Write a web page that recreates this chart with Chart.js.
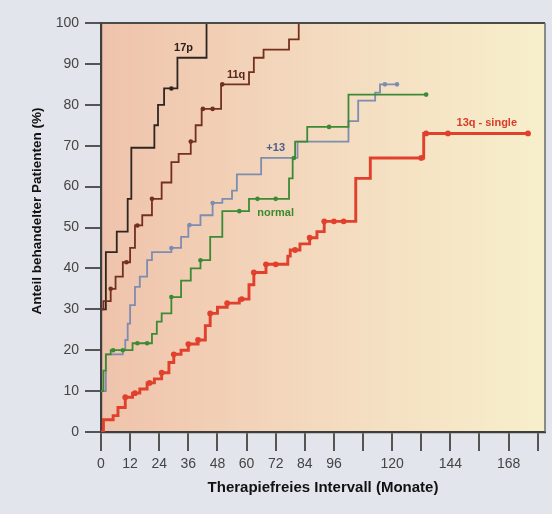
<!DOCTYPE html>
<html><head><meta charset="utf-8">
<script src="https://cdn.jsdelivr.net/npm/chart.js@4.4.1/dist/chart.umd.min.js"></script>
<style>html,body{margin:0;padding:0;background:#e2e6ec;}canvas{display:block}</style>
</head><body>
<canvas id="c" width="552" height="514"></canvas>
<script>
// ---- tick labels ----
const xTickValues = [0,12,24,36,48,60,72,84,96,108,120,132,144,156,168,180];
const xTickLabels = ['0','12','24','36','48','60','72','84','96','','120','','144','','168',''];
const yTickLabels = ['0','10','20','30','40','50','60','70','80','90','100'];
const xTitle = 'Therapiefreies Intervall (Monate)';
const yTitle = 'Anteil behandelter Patienten (%)';

// ---- series names ----
const seriesNames = ['17p','11q','+13','normal','13q - single'];

// ---- 17p ----
const m17p = [0,2,6.5,11,12.5,22,23.5,26,31.5,43.5];
const p17p = [30,44,49,57,69.5,75,80,84,91.5,100];
const c17pM = [29];
const c17pP = [84];

// ---- 11q ----
const m11q = [0,1,4,6,9,12,14,17,21,25,29,32,37,39,41.5,49.5,61,63,67,77.5,81.5];
const p11q = [30,32,35,38,41.5,45,50.5,53,57,61,66,68,71,75,79,85,88,91.5,93.5,96,100];
const c11qM = [4,10.5,15,21,37,42,46,50];
const c11qP = [35,41.5,50.5,57,71,79,79,85];

// ---- +13 ----
const m13p = [0,2,9,10,11,12,14,16,19,21,29,33,36,41,46,50,54,56,66,81,102,106,113,115,122];
const p13p = [10,19,20,22.5,26.5,31,35.5,38,42,44,45,47.7,50.6,53,56,57,59,63,67,71,76,81,83,85,85];
const c13pM = [29,36.5,46,117,122];
const c13pP = [45,50.6,56,85,85];

// ---- normal ----
const mNorm = [0,1,2,4,13,21,23,25,29,33,37,41,45,50,61,77.5,79,80,85,102,134];
const pNorm = [10,15,19,20,21.7,24,27,29,33,37,40,42,47.7,54,57,62,67,71,74.6,82.5,82.5];
const cNormM = [5,9,15,19,29,41,57,64.5,72,79.5,94,134];
const cNormP = [20,20,21.7,21.7,33,42,54,57,57,67,74.6,82.5];

// ---- 13q single ----
const m13q = [0,1,5,7,10,13,16,19,22,25,28,30,33,36,40,43,45,48,52,57,61,63,68,77,78,82,86,89,92,105,111,133,176];
const p13q = [0,3,4,6,8.5,9.5,10.5,12,13,14.5,17,19,20,21.5,22.5,26,29,30.5,31.5,32.5,36,39,41,43,44.5,46,47.5,49,51.5,62,67,73,73];
const c13qM = [10,14,20,25,30,36,40,45,52,58,63,68,72,80,86,92,96,100,132,134,143,176];
const c13qP = [8.5,9.5,12,14.5,19,21.5,22.5,29,31.5,32.5,39,41,41,44.5,47.5,51.5,51.5,51.5,67,73,73,73];

// ---- label anchor positions (month, percent) ----
const labelM = [34,55.7,72,72,159];
const labelP = [94,87.3,69.5,53.6,75.5];

const colors = ['#2f2622','#74301f','#7d8db0','#3d8a36','#e0402c'];
const labelColors = ['#2a201c','#5a261a','#4b5f8a','#3a8a30','#d83c28'];
const widths = [1.8,1.8,1.8,1.8,2.9];

const zip = (a,b) => a.map((v,i)=>({x:v,y:b[i]}));
const lines = [[m17p,p17p],[m11q,p11q],[m13p,p13p],[mNorm,pNorm],[m13q,p13q]];
const cens = [[c17pM,c17pP],[c11qM,c11qP],[c13pM,c13pP],[cNormM,cNormP],[c13qM,c13qP]];

const datasets = [];
lines.forEach((s,i)=>{
  datasets.push({label:seriesNames[i], data:zip(s[0],s[1]), stepped:true, borderColor:colors[i],
    borderWidth:widths[i], pointRadius:0, fill:false, order:5-i});
});
cens.forEach((s,i)=>{
  datasets.push({label:seriesNames[i]+' zensiert', data:zip(s[0],s[1]), showLine:false,
    pointRadius:i===4?2.9:2.3, pointBackgroundColor:colors[i], pointBorderColor:colors[i], pointBorderWidth:0, order:0});
});

const FONT = "'Liberation Sans', Arial, sans-serif";

const deco = {
  id:'deco',
  beforeDraw(chart){
    const {ctx, chartArea:a} = chart;
    ctx.save();
    ctx.fillStyle = '#e2e6ec';
    ctx.fillRect(0,0,chart.width,chart.height);
    const g = ctx.createLinearGradient(a.left,0,a.right,0);
    g.addColorStop(0,'#efc3ab');
    g.addColorStop(0.45,'#f3d8bd');
    g.addColorStop(1,'#f7efcc');
    ctx.fillStyle = g;
    ctx.fillRect(a.left,a.top,a.right-a.left,a.bottom-a.top);
    ctx.restore();
  },
  afterDraw(chart){
    const {ctx, chartArea:a, scales:{x,y}} = chart;
    ctx.save();
    ctx.strokeStyle = '#4a4a4a';
    ctx.lineWidth = 2;
    ctx.beginPath(); ctx.moveTo(a.left,a.top); ctx.lineTo(a.right,a.top); ctx.stroke();
    ctx.lineWidth = 1.5; ctx.strokeStyle = '#6a6a6a';
    ctx.beginPath(); ctx.moveTo(a.right,a.top); ctx.lineTo(a.right,a.bottom); ctx.stroke();
    ctx.font = 'bold 11px ' + FONT;
    ctx.textAlign = 'center'; ctx.textBaseline = 'middle';
    seriesNames.forEach((n,i)=>{
      ctx.fillStyle = labelColors[i];
      ctx.fillText(n, x.getPixelForValue(labelM[i]), y.getPixelForValue(labelP[i]));
    });
    ctx.fillStyle = '#111';
    ctx.font = 'bold 15px ' + FONT;
    ctx.fillText(xTitle, (a.left+a.right)/2, 488);
    ctx.font = 'bold 13.5px ' + FONT;
    ctx.translate(37, 211);
    ctx.rotate(-Math.PI/2);
    ctx.fillText(yTitle, 0, 0);
    ctx.restore();
  }
};

new Chart(document.getElementById('c'), {
  type:'line',
  data:{datasets},
  options:{
    responsive:false, animation:false,
    layout:{padding:{top:23,right:7,left:0,bottom:0}},
    plugins:{legend:{display:false}, tooltip:{enabled:false}},
    scales:{
      x:{type:'linear', min:0, max:183,
        afterFit(s){ s.height = 82; },
        afterBuildTicks(s){ s.ticks = xTickValues.map(v=>({value:v})); },
        ticks:{autoSkip:false, maxRotation:0, padding:5, color:'#444',
          font:{family:FONT, size:14},
          callback:(v,i)=>xTickLabels[i]},
        grid:{drawOnChartArea:false, drawTicks:true, tickLength:19, color:'#555', lineWidth:2},
        border:{color:'#3e3e3e', width:2.2}
      },
      y:{type:'linear', min:0, max:100,
        afterFit(s){ s.width = 101; },
        ticks:{stepSize:10, padding:6, color:'#444', font:{family:FONT, size:14},
          callback:(v)=>yTickLabels[Math.round(v/10)]},
        grid:{drawOnChartArea:false, drawTicks:true, tickLength:16, color:'#555', lineWidth:2},
        border:{color:'#3e3e3e', width:2.2}
      }
    }
  },
  plugins:[deco]
});
</script>
</body></html>
